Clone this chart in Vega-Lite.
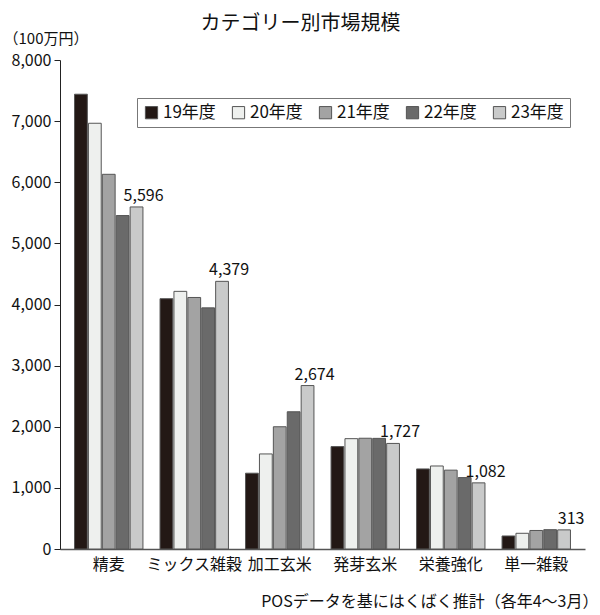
{
  "$schema": "https://vega.github.io/schema/vega-lite/v6.json",
  "autosize": "none",
  "width": 525,
  "height": 489,
  "padding": {"left": 60, "top": 60, "right": 15, "bottom": 66},
  "background": "white",
  "config": {
    "font": "Noto Sans CJK JP",
    "view": {"stroke": null},
    "axis": {"labelFont": "Noto Sans CJK JP", "titleFont": "Noto Sans CJK JP"},
    "legend": {"labelFont": "Noto Sans CJK JP"}
  },
  "title": {
    "text": "カテゴリー別市場規模",
    "fontSize": 20,
    "fontWeight": "normal",
    "color": "#111",
    "anchor": "middle",
    "dx": -22,
    "dy": 11,
    "offset": 8
  },
  "data": {
    "values": [
      {"cat": "精麦", "year": "19年度", "v": 7440},
      {"cat": "精麦", "year": "20年度", "v": 6965},
      {"cat": "精麦", "year": "21年度", "v": 6130},
      {"cat": "精麦", "year": "22年度", "v": 5455},
      {"cat": "精麦", "year": "23年度", "v": 5596},
      {"cat": "ミックス雑穀", "year": "19年度", "v": 4095},
      {"cat": "ミックス雑穀", "year": "20年度", "v": 4215},
      {"cat": "ミックス雑穀", "year": "21年度", "v": 4115},
      {"cat": "ミックス雑穀", "year": "22年度", "v": 3945},
      {"cat": "ミックス雑穀", "year": "23年度", "v": 4379},
      {"cat": "加工玄米", "year": "19年度", "v": 1240},
      {"cat": "加工玄米", "year": "20年度", "v": 1555},
      {"cat": "加工玄米", "year": "21年度", "v": 2000},
      {"cat": "加工玄米", "year": "22年度", "v": 2245},
      {"cat": "加工玄米", "year": "23年度", "v": 2674},
      {"cat": "発芽玄米", "year": "19年度", "v": 1675},
      {"cat": "発芽玄米", "year": "20年度", "v": 1805},
      {"cat": "発芽玄米", "year": "21年度", "v": 1812},
      {"cat": "発芽玄米", "year": "22年度", "v": 1810},
      {"cat": "発芽玄米", "year": "23年度", "v": 1727},
      {"cat": "栄養強化", "year": "19年度", "v": 1310},
      {"cat": "栄養強化", "year": "20年度", "v": 1358},
      {"cat": "栄養強化", "year": "21年度", "v": 1290},
      {"cat": "栄養強化", "year": "22年度", "v": 1168},
      {"cat": "栄養強化", "year": "23年度", "v": 1082},
      {"cat": "単一雑穀", "year": "19年度", "v": 213},
      {"cat": "単一雑穀", "year": "20年度", "v": 257},
      {"cat": "単一雑穀", "year": "21年度", "v": 303},
      {"cat": "単一雑穀", "year": "22年度", "v": 316},
      {"cat": "単一雑穀", "year": "23年度", "v": 313}
    ]
  },
  "encoding": {
    "x": {
      "field": "cat",
      "type": "nominal",
      "sort": null,
      "scale": {"paddingInner": 0.2, "paddingOuter": 0.17},
      "axis": {
        "title": "POSデータを基にはくばく推計（各年4～3月）",
        "titleFontSize": 16,
        "titleFontWeight": "normal",
        "titleColor": "#111",
        "titleAnchor": "end",
        "titleAlign": "right",
        "titleX": 538,
        "titleY": 44,
        "labelAngle": 0,
        "labelFontSize": 16,
        "labelColor": "#111",
        "labelPadding": 7,
        "ticks": false,
        "domainColor": "#555",
        "domainWidth": 1.5
      }
    },
    "xOffset": {
      "field": "year",
      "type": "nominal",
      "sort": null,
      "scale": {"paddingInner": 0.08}
    },
    "y": {
      "field": "v",
      "type": "quantitative",
      "scale": {"domain": [0, 8000], "nice": false},
      "axis": {
        "title": "（100万円）",
        "titleAngle": 0,
        "titleAlign": "left",
        "titleBaseline": "middle",
        "titleX": -57,
        "titleY": -22,
        "titleFontSize": 15,
        "titleFontWeight": "normal",
        "titleColor": "#111",
        "values": [0, 1000, 2000, 3000, 4000, 5000, 6000, 7000, 8000],
        "format": ",d",
        "labelFontSize": 16,
        "labelColor": "#111",
        "labelPadding": 3,
        "tickSize": 6,
        "tickColor": "#222",
        "domainColor": "#222",
        "grid": false
      }
    }
  },
  "layer": [
    {
      "mark": {"type": "bar", "stroke": "#555", "strokeWidth": 1},
      "encoding": {
        "fill": {
          "field": "year",
          "type": "nominal",
          "sort": null,
          "scale": {
            "domain": ["19年度", "20年度", "21年度", "22年度", "23年度"],
            "range": ["#231815", "#eef0ee", "#a3a3a3", "#6a6a6a", "#c9caca"]
          },
          "legend": {
            "title": null,
            "orient": "none",
            "legendX": 77,
            "legendY": 38,
            "direction": "horizontal",
            "strokeColor": "#777",
            "padding": 6,
            "symbolType": "square",
            "symbolSize": 150,
            "symbolStrokeColor": "#555",
            "symbolStrokeWidth": 1,
            "labelFontSize": 17,
            "labelColor": "#111",
            "columnPadding": 14,
            "labelOffset": 3
          }
        }
      }
    },
    {
      "transform": [{"filter": "datum.year === '23年度'"}],
      "mark": {"type": "text", "baseline": "bottom", "dy": -3, "dx": 7, "fontSize": 16, "color": "#111"},
      "encoding": {
        "text": {"field": "v", "type": "quantitative", "format": ","}
      }
    }
  ]
}
